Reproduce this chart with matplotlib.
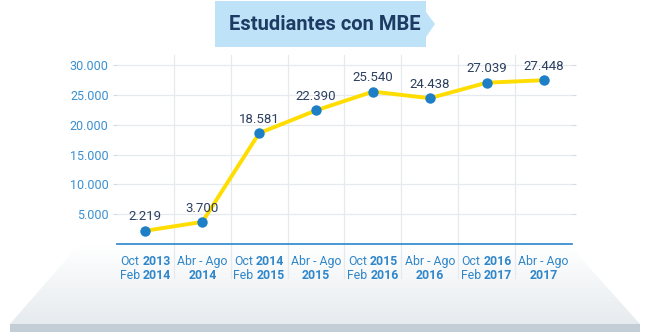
import matplotlib
matplotlib.use("Agg")
import matplotlib.pyplot as plt
import numpy as np
from matplotlib.patches import Polygon, Rectangle
from matplotlib.colors import LinearSegmentedColormap

# ---- data ----
line1_regular = ["Oct", "Abr - Ago", "Oct", "Abr - Ago", "Oct", "Abr - Ago", "Oct", "Abr - Ago"]
line1_bold = ["2013", "", "2014", "", "2015", "", "2016", ""]
line2_regular = ["Feb", "", "Feb", "", "Feb", "", "Feb", ""]
line2_bold = ["2014", "2014", "2015", "2015", "2016", "2016", "2017", "2017"]
values = [2219, 3700, 18581, 22390, 25540, 24438, 27039, 27448]
value_labels = ["2.219", "3.700", "18.581", "22.390", "25.540", "24.438", "27.039", "27.448"]
yticks = [5000, 10000, 15000, 20000, 25000, 30000]
ytick_labels = ["5.000", "10.000", "15.000", "20.000", "25.000", "30.000"]
title = "Estudiantes con MBE"

FONT = "Roboto"
W, H = 650, 332
fig = plt.figure(figsize=(W / 100, H / 100), dpi=100)

# ---- background layer in pixel coords ----
bg = fig.add_axes([0, 0, 1, 1], zorder=0)
bg.set_xlim(0, W)
bg.set_ylim(H, 0)
bg.axis("off")

trap = Polygon([(78, 246), (570, 246), (640, 324), (10, 324)], closed=True,
               facecolor="none", edgecolor="none")
bg.add_patch(trap)
grad = np.linspace(0, 1, 256).reshape(-1, 1)
cmap = LinearSegmentedColormap.from_list("g", ["#ffffff", "#e6ebef"])
im = bg.imshow(grad, extent=(0, W, 324, 246), cmap=cmap, aspect="auto", zorder=1)
im.set_clip_path(trap)
bg.add_patch(Rectangle((10, 324), 630, 8, facecolor="#c2cdd5", edgecolor="none", zorder=2))

title_box = Polygon([(215, 1), (426, 1), (426, 12), (435, 24), (426, 37), (426, 47), (215, 47)],
                    closed=True, facecolor="#bee3f8", edgecolor="none", zorder=2)
bg.add_patch(title_box)
bg.text(325, 25, title, ha="center", va="center", fontsize=14.5, color="#1d3b63",
        family=FONT, fontweight="bold", zorder=3)

# ---- chart axes ----
x0, x1 = 117, 572
y0, y30 = 244, 65
ax = fig.add_axes([x0 / W, 1 - y0 / H, (x1 - x0) / W, (y0 - y30) / H], zorder=1)
ax.patch.set_alpha(0)
n = len(values)
xs = np.arange(n)
ax.set_xlim(-0.5, n - 0.5)
ax.set_ylim(0, 30000)
for s in ax.spines.values():
    s.set_visible(False)

for yv in yticks:
    ax.axhline(yv, color="#e6eaee", lw=0.9, zorder=1, clip_on=False)
px_per_unit = (y0 - y30) / 30000
ybot = -(278 - y0) / px_per_unit
ytop = 30000 + (y30 - 55) / px_per_unit
for xb in np.arange(0.5, n - 0.5, 1):
    ax.plot([xb, xb], [ybot, ytop], color="#e6eaee", lw=0.9, clip_on=False, zorder=1)
ax.axhline(0, color="#3a8fd0", lw=1.3, zorder=2, clip_on=False)

ax.plot(xs, values, color="#ffdd00", lw=2.8, zorder=3, solid_capstyle="round")
ax.plot(xs, values, "o", color="#1d7fc6", markersize=7.5, zorder=4, markeredgewidth=0)
for xv, yv, lab in zip(xs, values, value_labels):
    ax.annotate(lab, (xv, yv), xytext=(0, 7.5), textcoords="offset points",
                ha="center", va="baseline", fontsize=9.5, color="#2b3f5e",
                family=FONT, annotation_clip=False, zorder=5)

ax.set_yticks(yticks)
ax.set_yticklabels(ytick_labels, family=FONT, fontsize=9, color="#3a8fd0")
ax.tick_params(axis="y", length=3, width=0.8, color="#d5dbe0", pad=3,
               right=True, labelright=False)
ax.set_xticks([])

# x labels (mixed regular / bold), measured and placed manually
lab_color = "#2f86c9"
fs = 8.8
renderer = fig.canvas.get_renderer()
gap_px = 3.0


def text_width(s, wgt):
    t = fig.text(0, 0, s, fontsize=fs, family=FONT, fontweight=wgt)
    w = t.get_window_extent(renderer).width
    t.remove()
    return w


row_offsets_pt = [-15.3, -25.3]
for i in range(n):
    for r, (reg, bold) in enumerate(((line1_regular[i], line1_bold[i]),
                                     (line2_regular[i], line2_bold[i]))):
        pieces = []
        if reg:
            pieces.append((reg, "normal"))
        if bold:
            pieces.append((bold, "bold"))
        widths = [text_width(s, w) for s, w in pieces]
        total = sum(widths) + gap_px * (len(pieces) - 1)
        start = -total / 2
        for (s, wgt), w in zip(pieces, widths):
            ax.annotate(s, (i, 0), xytext=(start * 72 / 100, row_offsets_pt[r]),
                        textcoords="offset points", ha="left", va="baseline",
                        fontsize=fs, color=lab_color, family=FONT, fontweight=wgt,
                        annotation_clip=False)
            start += w + gap_px

fig.savefig("out.png", dpi=100)
